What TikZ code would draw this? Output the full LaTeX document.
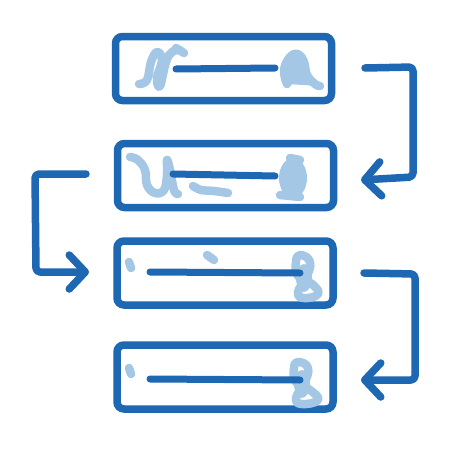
\documentclass[tikz,border=0pt]{standalone}
\usetikzlibrary{arrows.meta}
\definecolor{dk}{HTML}{1D67B3}
\definecolor{lt}{HTML}{A5C7E6}
\begin{document}
\begin{tikzpicture}[x=1pt,y=-1pt,
  box/.style={draw=dk,line width=7.5pt,rounded corners=7pt,minimum width=216pt,minimum height=64pt,inner sep=0pt},
  bar/.style={draw=dk,line width=7pt,line cap=round},
  scrib/.style={draw=lt,line width=8.5pt,line cap=round,line join=round},
  flow/.style={draw=dk,line width=7.5pt,line cap=round,line join=round,rounded corners=4pt,
    -{Straight Barb[length=16pt,width=34pt,round]}}]
\useasboundingbox (0,0) rectangle (450,450);
% boxes
\node[box] (b1) at (223.5,68.5) {};
\node[box] (b2) at (225.5,175.5) {};
\node[box] (b3) at (225,273) {};
\node[box] (b4) at (225,377) {};
% light scribbles
\draw[scrib] plot[smooth,tension=0.7] coordinates {(139,84)(147,80)(151,62)(157,52)(162,60)(157,78)(160,86)(166,62)(172,52)(180,50)};
\draw[scrib] (176,48) -- (184,53);
\draw[scrib,fill=lt] plot[smooth,tension=0.7] coordinates {(287,84)(284,70)(290,57)(298,54)(304,62)(307,75)(315,84)(320,86)};
\fill[lt] (290,74) ellipse (7pt and 11pt);
\draw[scrib] plot[smooth,tension=0.7] coordinates {(130,157)(138,160)(145,170)(147,185)(155,193)(164,190)(167,175)(167,160)(170,170)(174,190)(178,194)};
\draw[scrib] plot[smooth] coordinates {(193,186)(201,190)(214,191)(228,193)};
\fill[lt] (293,178) ellipse (14pt and 20pt);
\draw[scrib] (290,158) -- (300,160) (280,195) -- (300,197);
\draw[scrib] (129,262) -- (131,268);
\draw[scrib] (207,255) -- (214,260);
\draw[scrib] plot[smooth cycle,tension=0.8] coordinates {(300,255)(310,262)(306,278)(298,292)(304,298)(318,294)(312,284)(298,276)(296,262)};
\fill[lt] (304,278) ellipse (8pt and 14pt);
\draw[scrib] (129,368) -- (131,374);
\draw[scrib] plot[smooth cycle,tension=0.8] coordinates {(298,362)(308,368)(304,384)(296,398)(302,404)(318,400)(310,390)(296,382)(294,368)};
\fill[lt] (302,384) ellipse (8pt and 14pt);
% dark inner lines
\coordinate (l1a) at (176,69); \coordinate (l1b) at (275,68);
\coordinate (l2a) at (173,174); \coordinate (l2b) at (275,176);
\coordinate (l3a) at (150,272); \coordinate (l3b) at (300,273);
\coordinate (l4a) at (150,379); \coordinate (l4b) at (300,380);
\draw[bar] (l1a) -- (l1b);
\draw[bar] (l2a) -- (l2b);
\draw[bar] (l3a) -- (l3b);
\draw[bar] (l4a) -- (l4b);
% connectors
\coordinate (s1) at (365,68); \coordinate (e1) at (361,180);
\coordinate (s2) at (86,174); \coordinate (e2) at (89,272);
\coordinate (s3) at (364,273); \coordinate (e3) at (361,380);
\draw[flow] (s1) -- (413,67) -- (413,177) -- (e1);
\draw[flow] (s2) -- (35,174) -- (36,272) -- (e2);
\draw[flow] (s3) -- (415,274) -- (415,380) -- (e3);
\end{tikzpicture}
\end{document}
